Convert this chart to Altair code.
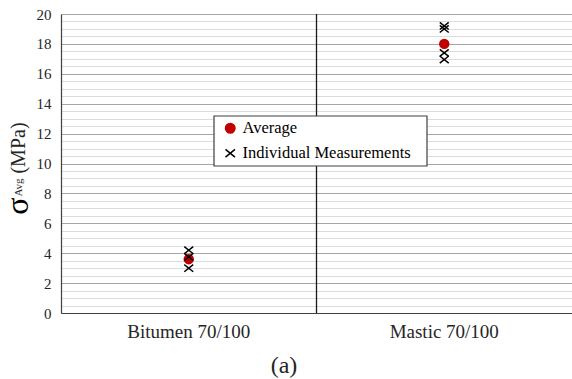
import altair as alt
import pandas as pd

# ---- data ----
categories = ["Bitumen 70/100", "Mastic 70/100"]
series_names = ["Average", "Individual Measurements"]
average_values = [3.6, 18.0]
individual_bitumen = [4.2, 3.75, 3.0]
individual_mastic = [19.2, 19.0, 17.4, 16.95]
y_ticks = [i * 0.5 for i in range(41)]

FONT = "Liberation Serif"
TXT = "#262626"

rows = []
for c, v in zip(categories, average_values):
    rows.append({"cat": c, "series": series_names[0], "value": v})
for v in individual_bitumen:
    rows.append({"cat": categories[0], "series": series_names[1], "value": v})
for v in individual_mastic:
    rows.append({"cat": categories[1], "series": series_names[1], "value": v})
df = pd.DataFrame(rows)

x_scale = alt.Scale(type="band", domain=categories, paddingInner=0, paddingOuter=0)
y_scale = alt.Scale(domain=[0, 20], nice=False, zero=True)

x_axis = alt.Axis(title=None, ticks=False, labelAngle=0, labelFont=FONT, labelFontSize=19,
                  labelColor=TXT, labelPadding=9, domainColor="#404040", domainWidth=1.2,
                  grid=False)
y_axis = alt.Axis(title=None, values=y_ticks, ticks=False, labelOverlap=False,
                  labelExpr="datum.value % 2 === 0 ? format(datum.value, 'd') : ''",
                  labelFont=FONT, labelFontSize=15, labelColor=TXT, labelPadding=10,
                  domainColor="#404040", domainWidth=1.2, grid=True,
                  gridColor=alt.condition("datum.value % 2 === 0", alt.value("#a6a6a6"), alt.value("#dcdcdc")),
                  gridWidth=1)

# vertical divider between the two categories
divider = alt.Chart(pd.DataFrame({"cat": [categories[1]], "value": [0]})).mark_rule(
    color="#1a1a1a", strokeWidth=1.3
).encode(
    x=alt.X("cat:N", bandPosition=0, scale=x_scale, axis=x_axis),
)

base_points = alt.Chart(df).mark_point(opacity=1, size=80, strokeWidth=1.5).encode(
    x=alt.X("cat:N", scale=x_scale, axis=x_axis),
    y=alt.Y("value:Q", scale=y_scale, axis=y_axis),
)

legend = alt.Legend(title=None, orient="none", legendX=161, legendY=106, padding=0,
                    labelFont=FONT, labelFontSize=16.5, labelColor="black", labelOffset=4,
                    labelLimit=400, rowPadding=8, symbolStrokeWidth=1.5, symbolSize=90)

points = base_points.encode(
    fill=alt.Fill("series:N", scale=alt.Scale(domain=series_names, range=["#c00000", "transparent"]), legend=legend),
    stroke=alt.Stroke("series:N", scale=alt.Scale(domain=series_names, range=["#c00000", "black"]), legend=legend),
    shape=alt.Shape("series:N", scale=alt.Scale(domain=series_names, range=["circle", "M-1,-0.8L1,0.8M-1,0.8L1,-0.8"]), legend=legend),
)

one = pd.DataFrame({"k": [0]})

frame = alt.Chart(one).mark_rect(fill="white", stroke="#404040", strokeWidth=1.2).encode(
    x=alt.value(153), x2=alt.value(366), y=alt.value(102), y2=alt.value(152)
)

sigma = alt.Chart(one).mark_text(text="σ", font=FONT, fontSize=32, angle=270, align="center",
                                 baseline="middle", color="black").encode(
    x=alt.value(-43), y=alt.value(192))
avg_sub = alt.Chart(one).mark_text(text="Avg", font=FONT, fontSize=11, angle=270, align="center",
                                   baseline="middle", color=TXT).encode(
    x=alt.value(-42), y=alt.value(173.5))
mpa = alt.Chart(one).mark_text(text="(MPa)", font=FONT, fontSize=20, angle=270, align="center",
                               baseline="middle", color=TXT).encode(
    x=alt.value(-42.5), y=alt.value(134))
label_a = alt.Chart(one).mark_text(text="(a)", font=FONT, fontSize=24, align="center",
                                   baseline="alphabetic", color=TXT).encode(
    x=alt.value(223), y=alt.value(359))

chart = alt.layer(divider, frame, points, sigma, avg_sub, mpa, label_a).properties(
    width=511, height=299,
    autosize=alt.AutoSizeParams(type="none"),
    padding={"left": 61, "top": 14, "right": 0, "bottom": 66},
).configure_view(stroke=None)

chart.save("out.html", embed_options={"renderer": "svg", "actions": False})
